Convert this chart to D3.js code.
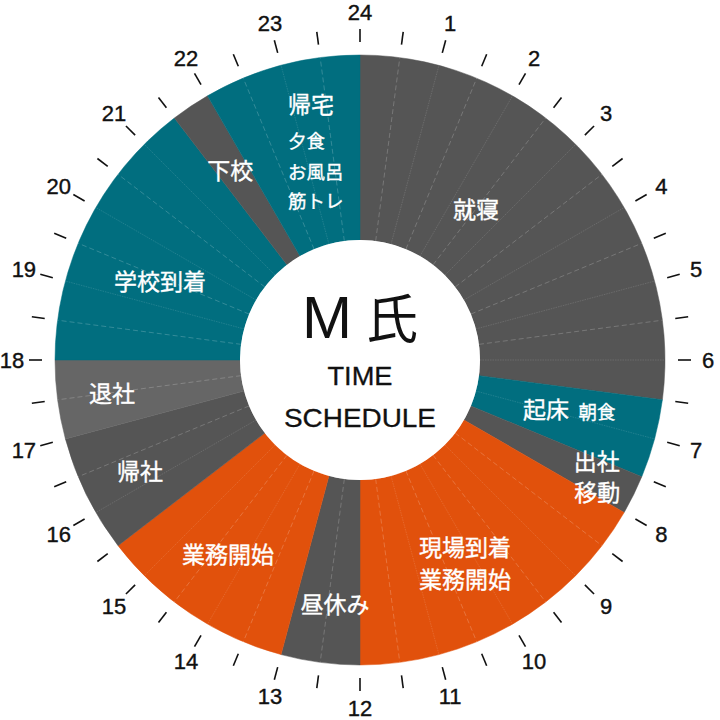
<!DOCTYPE html>
<html>
<head>
<meta charset="utf-8">
<script src="https://cdn.jsdelivr.net/npm/d3@7"></script>
<style>
  html, body { margin: 0; padding: 0; background: #fff; }
  svg { display: block; }
  text { font-family: "Liberation Sans", "Noto Sans CJK JP", sans-serif; }
</style>
</head>
<body>
<svg id="chart" width="720" height="720"></svg>
<script>
// ---------------- DATA ----------------
const activities = ["就寝", "起床 朝食", "出社 移動", "現場到着 業務開始", "昼休み", "業務開始", "帰社", "退社", "学校到着", "下校", "帰宅 夕食 お風呂 筋トレ"];
const startHours = [0, 6.5, 7.5, 8, 12, 13, 15.5, 17, 18, 21.5, 22];
const endHours   = [6.5, 7.5, 8, 12, 13, 15.5, 17, 18, 21.5, 22, 24];
const categories = ["rest", "home", "move", "work", "rest", "work", "move", "leave", "school", "move", "home"];
const labelTexts = [
  ["就寝"],
  ["起床", "朝食"],
  ["出社", "移動"],
  ["現場到着", "業務開始"],
  ["昼休み"],
  ["業務開始"],
  ["帰社"],
  ["退社"],
  ["学校到着"],
  ["下校"],
  ["帰宅", "夕食", "お風呂", "筋トレ"]
];
const hourLabels = ["1","2","3","4","5","6","7","8","9","10","11","12","13","14","15","16","17","18","19","20","21","22","23","24"];
const hourLabelValues = [1,2,3,4,5,6,7,8,9,10,11,12,13,14,15,16,17,18,19,20,21,22,23,24];
const tickHours = [0,0.5,1,1.5,2,2.5,3,3.5,4,4.5,5,5.5,6,6.5,7,7.5,8,8.5,9,9.5,10,10.5,11,11.5,12,12.5,13,13.5,14,14.5,15,15.5,16,16.5,17,17.5,18,18.5,19,19.5,20,20.5,21,21.5,22,22.5,23,23.5];
const titleMain = ["M", "氏"];
const titleSub = ["TIME", "SCHEDULE"];

// ---------------- STYLE / LAYOUT ----------------
const colors = { rest: "#555555", move: "#555555", home: "#016e7f", school: "#016e7f", work: "#e1510c", leave: "#666666" };
const W = 720, H = 720, cx = 360, cy = 360;
const rInner = 120, rOuter = 305, rTick0 = 318, rTick1 = 331, rLabel = 348;

// per-line label layout: [hour-angle, radius, font-size, anchor]
const labelLayout = [
  [[2.49, 191, 23, "middle"]],
  [[6.965, 192, 23, "middle"], [6.817, 242.5, 18.5, "middle"]],
  [[7.525, 257, 23, "middle"], [7.929, 271, 23, "middle"]],
  [[10.037, 213.6, 23, "middle"], [10.286, 242, 23, "middle"]],
  [[12.39, 244.3, 23, "middle"]],
  [[14.29, 233.8, 23, "middle"]],
  [[16.23, 246, 23, "middle"]],
  [[17.51, 250, 23, "middle"]],
  [[19.45, 215.4, 23, "middle"]],
  [[21.72, 231, 23, "middle"]],
  [[22.957, 267, 23, "start"], [22.792, 231.5, 18.5, "start"], [22.61, 202.2, 18.5, "start"], [22.385, 175.5, 18.5, "start"]]
];

const angle = d3.scaleLinear().domain([0, 24]).range([0, 2 * Math.PI]);
const px = (h, r) => r * Math.sin(angle(h));
const py = (h, r) => -r * Math.cos(angle(h));

const svg = d3.select("#chart");
const g = svg.append("g").attr("transform", `translate(${cx},${cy})`);

const segs = activities.map((a, i) => ({ name: a, s: startHours[i], e: endHours[i], cat: categories[i], idx: i }));

const arc = d3.arc().innerRadius(rInner).outerRadius(rOuter)
  .startAngle(d => angle(d.s)).endAngle(d => angle(d.e));

g.selectAll("path.seg").data(segs).join("path")
  .attr("class", "seg")
  .attr("d", arc)
  .attr("fill", d => colors[d.cat])
  .attr("stroke", d => colors[d.cat])
  .attr("stroke-width", 0.5);

// faint subdivision lines every half hour
g.selectAll("line.sub").data(tickHours.filter(h => !startHours.includes(h))).join("line")
  .attr("class", "sub")
  .attr("x1", d => px(d, rInner)).attr("y1", d => py(d, rInner))
  .attr("x2", d => px(d, rOuter)).attr("y2", d => py(d, rOuter))
  .attr("stroke", "#ffffff")
  .attr("stroke-opacity", d => (d % 1 === 0) ? 0.16 : 0.25)
  .attr("stroke-width", 0.8)
  .attr("stroke-dasharray", d => (d % 1 === 0) ? "1.5,1" : "5,3");

// inner white disk
g.append("circle").attr("r", rInner).attr("fill", "#fff");

// outer ticks
g.selectAll("line.tick").data(tickHours).join("line")
  .attr("class", "tick")
  .attr("x1", d => px(d, rTick0)).attr("y1", d => py(d, rTick0))
  .attr("x2", d => px(d, rTick1)).attr("y2", d => py(d, rTick1))
  .attr("stroke", "#111")
  .attr("stroke-width", 1.6);

// hour labels
g.selectAll("text.hour").data(hourLabelValues).join("text")
  .attr("class", "hour")
  .attr("x", d => px(d, rLabel)).attr("y", d => py(d, rLabel))
  .attr("text-anchor", "middle")
  .attr("dominant-baseline", "central")
  .attr("font-size", 22)
  .attr("fill", "#111")
  .attr("stroke", "#111")
  .attr("stroke-width", 0.4)
  .text((d, i) => hourLabels[i]);

// segment labels
segs.forEach((sg, i) => {
  labelTexts[i].forEach((t, j) => {
    const [h, r, fs, anchor] = labelLayout[i][j];
    g.append("text")
      .attr("x", px(h, r)).attr("y", py(h, r))
      .attr("text-anchor", anchor)
      .attr("dominant-baseline", "central")
      .attr("font-size", fs)
      .attr("fill", "#fff")
      .attr("stroke", "#fff")
      .attr("stroke-width", 0.35)
      .style("font-family", '"Noto Sans CJK JP", sans-serif')
      .text(t);
  });
});

// center title
const title = g.append("text").attr("x", 0).attr("y", -22).attr("text-anchor", "middle").attr("fill", "#111");
title.append("tspan").attr("font-size", 60).text(titleMain[0]);
title.append("tspan").attr("font-size", 52).attr("dx", 14).style("font-family", '"Noto Sans CJK JP", sans-serif').text(titleMain[1]);

g.append("text").attr("x", 0).attr("y", 25).attr("text-anchor", "middle")
  .attr("font-size", 25).attr("fill", "#111").attr("stroke", "#111").attr("stroke-width", 0.3)
  .attr("textLength", 65).attr("lengthAdjust", "spacingAndGlyphs").text(titleSub[0]);
g.append("text").attr("x", 0).attr("y", 67).attr("text-anchor", "middle")
  .attr("font-size", 25).attr("fill", "#111").attr("stroke", "#111").attr("stroke-width", 0.3)
  .attr("textLength", 152).attr("lengthAdjust", "spacingAndGlyphs").text(titleSub[1]);
</script>
</body>
</html>
